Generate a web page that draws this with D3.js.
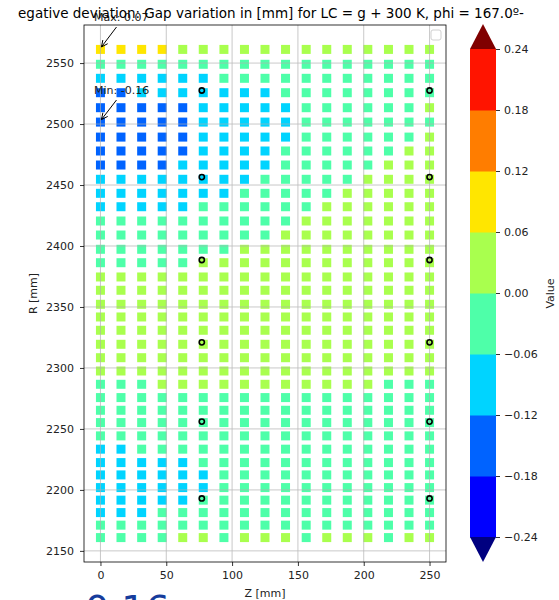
<!DOCTYPE html>
<html>
<head>
<meta charset="utf-8">
<script src="https://cdn.jsdelivr.net/npm/d3@7"></script>
<style>
  body { margin: 0; background: #fff; }
  svg text { font-family: "DejaVu Sans", sans-serif; }
</style>
</head>
<body>
<div id="chart"></div>
<script>
// Z positions of the measuring columns [mm]
var zPos = [0, 15.6, 31.3, 46.9, 62.5, 78.1, 93.8, 109.4, 125, 140.6, 156.3, 171.9, 187.5, 203.1, 218.8, 234.4, 250];
// R positions of the rows, top to bottom [mm]
var rPos = [2561.2, 2549, 2537.5, 2525.7, 2513.4, 2501.6, 2489.3, 2477.9, 2466.4, 2454.7, 2443.2, 2432.2,
            2420.5, 2409, 2397.3, 2386.3, 2374.6, 2363.7, 2352.2, 2341.8, 2330.9, 2319.4, 2308.4, 2297.5,
            2286.6, 2275.7, 2265.3, 2255.2, 2244.3, 2233.4, 2222.4, 2212.3, 2201.9, 2191.6, 2181.4, 2171.1, 2160.9];
// gap variation [mm], one row per R, one value per Z
var gap = [
  [0.07, 0.07, 0.07, 0.07, 0.02, 0.02, 0.02, 0.02, 0.02, 0.02, 0.02, 0.02, 0.02, 0.02, 0.02, 0.02, 0.02],
  [-0.02, -0.02, -0.02, -0.02, -0.02, -0.02, -0.02, -0.02, -0.02, -0.02, -0.02, -0.02, -0.02, -0.02, -0.02, -0.02, -0.02],
  [-0.08, -0.08, -0.08, -0.08, -0.08, -0.08, -0.02, -0.02, -0.02, -0.02, -0.02, -0.02, -0.02, -0.02, -0.02, -0.02, -0.02],
  [-0.14, -0.14, -0.08, -0.08, -0.08, -0.08, -0.08, -0.08, -0.08, -0.02, -0.02, -0.02, -0.02, -0.02, -0.02, -0.02, -0.02],
  [-0.14, -0.14, -0.14, -0.14, -0.14, -0.08, -0.08, -0.08, -0.08, -0.08, -0.02, -0.02, -0.02, -0.02, -0.02, -0.02, 0.02],
  [-0.16, -0.14, -0.14, -0.14, -0.14, -0.08, -0.08, -0.08, -0.08, -0.08, -0.02, -0.02, -0.02, -0.02, -0.02, -0.02, -0.02],
  [-0.14, -0.14, -0.14, -0.14, -0.14, -0.08, -0.08, -0.08, -0.08, -0.08, -0.02, -0.02, -0.02, -0.02, -0.02, -0.02, 0.02],
  [-0.14, -0.14, -0.14, -0.14, -0.14, -0.08, -0.08, -0.08, -0.08, -0.02, -0.02, -0.02, -0.02, -0.02, -0.02, 0.02, 0.02],
  [-0.14, -0.14, -0.14, -0.14, -0.08, -0.08, -0.08, -0.08, -0.08, -0.02, -0.02, -0.02, -0.02, -0.02, 0.02, 0.02, 0.02],
  [-0.08, -0.08, -0.08, -0.08, -0.08, -0.08, -0.08, -0.08, -0.02, -0.02, -0.02, -0.02, -0.02, 0.02, 0.02, 0.02, 0.02],
  [-0.08, -0.08, -0.08, -0.08, -0.08, -0.08, -0.08, -0.02, -0.02, -0.02, -0.02, -0.02, 0.02, 0.02, 0.02, 0.02, 0.02],
  [-0.08, -0.08, -0.08, -0.08, -0.08, -0.02, -0.02, -0.02, -0.02, -0.02, -0.02, 0.02, 0.02, 0.02, 0.02, 0.02, 0.02],
  [-0.02, -0.02, -0.02, -0.02, -0.02, -0.02, -0.02, -0.02, -0.02, -0.02, 0.02, 0.02, 0.02, 0.02, 0.02, 0.02, 0.02],
  [-0.02, -0.02, -0.02, -0.02, -0.02, -0.02, -0.02, -0.02, -0.02, 0.02, 0.02, 0.02, 0.02, 0.02, 0.02, 0.02, 0.02],
  [-0.02, -0.02, -0.02, -0.02, -0.02, -0.02, -0.02, 0.02, 0.02, 0.02, 0.02, 0.02, 0.02, 0.02, 0.02, 0.02, 0.02],
  [-0.02, -0.02, -0.02, -0.02, -0.02, 0.02, 0.02, 0.02, 0.02, 0.02, 0.02, 0.02, 0.02, 0.02, 0.02, 0.02, 0.02],
  [0.02, 0.02, 0.02, 0.02, 0.02, 0.02, 0.02, 0.02, 0.02, 0.02, 0.02, 0.02, 0.02, 0.02, 0.02, 0.02, 0.02],
  [0.02, 0.02, 0.02, 0.02, 0.02, 0.02, 0.02, 0.02, 0.02, 0.02, 0.02, 0.02, 0.02, 0.02, 0.02, 0.02, 0.02],
  [0.02, 0.02, 0.02, 0.02, 0.02, 0.02, 0.02, 0.02, 0.02, 0.02, 0.02, 0.02, 0.02, 0.02, 0.02, 0.02, 0.02],
  [0.02, 0.02, 0.02, 0.02, 0.02, 0.02, 0.02, 0.02, 0.02, 0.02, 0.02, 0.02, 0.02, 0.02, 0.02, 0.02, 0.02],
  [0.02, 0.02, 0.02, 0.02, 0.02, 0.02, 0.02, 0.02, 0.02, 0.02, 0.02, 0.02, 0.02, 0.02, 0.02, 0.02, 0.02],
  [0.02, 0.02, 0.02, 0.02, 0.02, 0.02, 0.02, 0.02, 0.02, 0.02, 0.02, 0.02, 0.02, 0.02, 0.02, 0.02, 0.02],
  [0.02, 0.02, 0.02, 0.02, 0.02, 0.02, 0.02, 0.02, 0.02, 0.02, 0.02, 0.02, 0.02, 0.02, 0.02, 0.02, 0.02],
  [0.02, 0.02, 0.02, 0.02, 0.02, 0.02, 0.02, 0.02, 0.02, 0.02, 0.02, 0.02, 0.02, 0.02, 0.02, 0.02, 0.02],
  [-0.02, -0.02, -0.02, 0.02, 0.02, 0.02, 0.02, 0.02, 0.02, 0.02, 0.02, 0.02, 0.02, 0.02, -0.02, -0.02, -0.02],
  [-0.02, -0.02, -0.02, -0.02, -0.02, -0.02, -0.02, -0.02, -0.02, -0.02, -0.02, -0.02, -0.02, -0.02, -0.02, -0.02, -0.02],
  [-0.02, -0.02, -0.02, -0.02, -0.02, -0.02, -0.02, -0.02, -0.02, -0.02, -0.02, -0.02, -0.02, -0.02, -0.02, -0.02, -0.02],
  [-0.02, -0.02, -0.02, -0.02, -0.02, -0.02, -0.02, -0.02, -0.02, -0.02, -0.02, -0.02, -0.02, -0.02, -0.02, -0.02, -0.02],
  [-0.02, -0.02, -0.02, -0.02, -0.02, -0.02, -0.02, -0.02, -0.02, -0.02, -0.02, -0.02, -0.02, -0.02, -0.02, -0.02, -0.02],
  [-0.08, -0.08, -0.02, -0.02, -0.02, -0.02, -0.02, -0.02, -0.02, -0.02, -0.02, -0.02, -0.02, -0.02, -0.02, -0.02, -0.02],
  [-0.08, -0.08, -0.08, -0.08, -0.08, -0.02, -0.02, -0.02, -0.02, -0.02, -0.02, -0.02, -0.02, -0.02, -0.02, -0.02, -0.02],
  [-0.08, -0.08, -0.08, -0.08, -0.08, -0.08, -0.02, -0.02, -0.02, -0.02, -0.02, -0.02, -0.02, -0.02, -0.02, -0.02, -0.02],
  [-0.08, -0.08, -0.08, -0.08, -0.08, -0.08, -0.02, -0.02, -0.02, -0.02, -0.02, -0.02, -0.02, -0.02, -0.02, -0.02, -0.02],
  [-0.08, -0.08, -0.08, -0.08, -0.08, -0.02, -0.02, -0.02, -0.02, -0.02, -0.02, -0.02, -0.02, -0.02, -0.02, -0.02, -0.02],
  [-0.08, -0.08, -0.08, -0.02, -0.02, -0.02, -0.02, -0.02, -0.02, -0.02, -0.02, -0.02, -0.02, -0.02, -0.02, -0.02, -0.02],
  [-0.02, -0.02, -0.02, -0.02, -0.02, -0.02, -0.02, -0.02, -0.02, -0.02, -0.02, -0.02, -0.02, -0.02, -0.02, -0.02, -0.02],
  [-0.02, -0.02, -0.02, -0.02, 0.02, 0.02, -0.02, 0.02, 0.02, 0.02, -0.02, 0.02, 0.02, 0.02, -0.02, 0.02, 0.02]
];
// reference points (black circles)
var refZ = [77, 250];
var refR = [2527.5, 2456.5, 2388.5, 2321, 2256, 2193];
// colour levels
var levels = [-0.24, -0.18, -0.12, -0.06, 0, 0.06, 0.12, 0.18, 0.24];
var xTicks = [0, 50, 100, 150, 200, 250];
var yTicks = [2150, 2200, 2250, 2300, 2350, 2400, 2450, 2500, 2550];

var titleText = 'egative deviation: Gap variation in [mm] for LC = g + 300 K, phi = 167.0º-';
var width = 559, height = 600;
var plot = {left: 84, right: 446, top: 25, bottom: 562};

var svg = d3.select('#chart').append('svg')
    .attr('width', width).attr('height', height);
svg.append('rect').attr('width', width).attr('height', height).attr('fill', '#fff');

// matplotlib style 5% margins
function padded(ext) {
    var p = (ext[1] - ext[0]) * 0.05;
    return [ext[0] - p, ext[1] + p];
}
var x = d3.scaleLinear().domain(padded(d3.extent(zPos))).range([plot.left, plot.right]);
var y = d3.scaleLinear().domain(padded(d3.extent(rPos))).range([plot.bottom, plot.top]);

// jet colormap
var jetR = d3.scaleLinear().domain([0, 0.35, 0.66, 0.89, 1]).range([0, 0, 1, 1, 0.5]);
var jetG = d3.scaleLinear().domain([0, 0.125, 0.375, 0.64, 0.91, 1]).range([0, 0, 1, 1, 0, 0]);
var jetB = d3.scaleLinear().domain([0, 0.11, 0.34, 0.65, 1]).range([0.5, 1, 1, 0, 0]);
function jet(t) {
    return d3.rgb(jetR(t) * 255, jetG(t) * 255, jetB(t) * 255).formatHex();
}
var binColors = d3.range(levels.length + 1).map(function (i) { return jet(i / levels.length); });
var color = d3.scaleThreshold().domain(levels).range(binColors);

var cells = [];
gap.forEach(function (row, i) {
    row.forEach(function (v, j) {
        cells.push({z: zPos[j], r: rPos[i], v: v});
    });
});

var sq = 9;
svg.append('g').selectAll('rect')
    .data(cells)
    .enter()
    .append('rect')
    .attr('x', function (d) { return x(d.z) - sq / 2; })
    .attr('y', function (d) { return y(d.r) - sq / 2; })
    .attr('width', sq)
    .attr('height', sq)
    .attr('fill', function (d) { return color(d.v); });

// grid on top of the markers
var grid = svg.append('g').attr('stroke', '#b0b0b0').attr('stroke-width', 0.8).attr('opacity', 0.85);
grid.selectAll('.gx').data(xTicks).enter().append('line')
    .attr('x1', function (d) { return x(d); }).attr('x2', function (d) { return x(d); })
    .attr('y1', plot.top).attr('y2', plot.bottom);
grid.selectAll('.gy').data(yTicks).enter().append('line')
    .attr('y1', function (d) { return y(d); }).attr('y2', function (d) { return y(d); })
    .attr('x1', plot.left).attr('x2', plot.right);

// reference circles
var refs = [];
refZ.forEach(function (z) { refR.forEach(function (r) { refs.push({z: z, r: r}); }); });
svg.append('g').selectAll('circle')
    .data(refs)
    .enter()
    .append('circle')
    .attr('cx', function (d) { return x(d.z); })
    .attr('cy', function (d) { return y(d.r); })
    .attr('r', 2.6)
    .attr('fill', 'none')
    .attr('stroke', '#000')
    .attr('stroke-width', 1.6);

// axes
var xAxis = svg.append('g').attr('transform', 'translate(0,' + plot.bottom + ')')
    .call(d3.axisBottom(x).tickValues(xTicks).tickFormat(d3.format('d')).tickSize(4).tickPadding(5).tickSizeOuter(0));
var yAxis = svg.append('g').attr('transform', 'translate(' + plot.left + ',0)')
    .call(d3.axisLeft(y).tickValues(yTicks).tickFormat(d3.format('d')).tickSize(4).tickPadding(6).tickSizeOuter(0));
[xAxis, yAxis].forEach(function (a) {
    a.select('.domain').remove();
    a.selectAll('text').attr('font-size', 11).attr('font-family', '"DejaVu Sans", sans-serif').attr('fill', '#222');
    a.selectAll('line').attr('stroke', '#000').attr('stroke-width', 0.8);
});
svg.append('rect')
    .attr('x', plot.left).attr('y', plot.top)
    .attr('width', plot.right - plot.left).attr('height', plot.bottom - plot.top)
    .attr('fill', 'none').attr('stroke', '#000').attr('stroke-width', 0.8);

// empty legend box
svg.append('rect').attr('x', 431).attr('y', 30).attr('width', 10).attr('height', 10).attr('rx', 2)
    .attr('fill', '#fff').attr('stroke', '#d0d0d0').attr('stroke-width', 1);

// axis labels
svg.append('text').attr('x', (plot.left + plot.right) / 2).attr('y', 597)
    .attr('text-anchor', 'middle').attr('font-size', 11).attr('fill', '#222').text('Z [mm]');
svg.append('text').attr('transform', 'translate(37,' + ((plot.top + plot.bottom) / 2) + ') rotate(-90)')
    .attr('text-anchor', 'middle').attr('font-size', 11).attr('fill', '#222').text('R [mm]');

// annotations
function arrow(x0, y0, x1, y1) {
    var a = Math.atan2(y1 - y0, x1 - x0), h = 7, s = 0.45;
    var p = d3.path();
    p.moveTo(x0, y0); p.lineTo(x1, y1);
    p.moveTo(x1 - h * Math.cos(a - s), y1 - h * Math.sin(a - s));
    p.lineTo(x1, y1);
    p.lineTo(x1 - h * Math.cos(a + s), y1 - h * Math.sin(a + s));
    svg.append('path').attr('d', p.toString()).attr('fill', 'none')
        .attr('stroke', '#000').attr('stroke-width', 1);
}
var maxCell = cells.reduce(function (a, b) { return b.v > a.v ? b : a; });
var minCell = cells.reduce(function (a, b) { return b.v < a.v ? b : a; });
svg.append('text').attr('x', 94).attr('y', 21).attr('font-size', 11).attr('fill', '#222')
    .text('Max: ' + maxCell.v.toFixed(2));
arrow(116.5, 27, x(maxCell.z) + 1, y(maxCell.r) - 2.5);
svg.append('text').attr('x', 94).attr('y', 94).attr('font-size', 11).attr('fill', '#222')
    .text('Min: ' + minCell.v.toFixed(2));
arrow(116.5, 100, x(minCell.z) + 1, y(minCell.r) - 2.5);

// title
svg.append('text').attr('x', 18).attr('y', 18).attr('font-size', 13.5).attr('fill', '#000').text(titleText);

// colorbar
var cb = {x: 470, w: 26, top: 49, bottom: 537, ext: 25};
var yC = d3.scaleLinear().domain([levels[0], levels[levels.length - 1]]).range([cb.bottom, cb.top]);
var cbg = svg.append('g');
cbg.selectAll('rect')
    .data(d3.pairs(levels))
    .enter()
    .append('rect')
    .attr('x', cb.x)
    .attr('width', cb.w)
    .attr('y', function (d) { return yC(d[1]); })
    .attr('height', function (d) { return yC(d[0]) - yC(d[1]) + 0.5; })
    .attr('fill', function (d) { return color((d[0] + d[1]) / 2); });
cbg.append('path')
    .attr('d', 'M' + cb.x + ',' + cb.top + 'L' + (cb.x + cb.w) + ',' + cb.top + 'L' + (cb.x + cb.w / 2) + ',' + (cb.top - cb.ext) + 'Z')
    .attr('fill', binColors[binColors.length - 1]);
cbg.append('path')
    .attr('d', 'M' + cb.x + ',' + cb.bottom + 'L' + (cb.x + cb.w) + ',' + cb.bottom + 'L' + (cb.x + cb.w / 2) + ',' + (cb.bottom + cb.ext) + 'Z')
    .attr('fill', binColors[0]);
var cAxis = svg.append('g').attr('transform', 'translate(' + (cb.x + cb.w) + ',0)')
    .call(d3.axisRight(yC).tickValues(levels).tickFormat(d3.format('.2f')).tickSize(4).tickPadding(4).tickSizeOuter(0));
cAxis.select('.domain').remove();
cAxis.selectAll('text').attr('font-size', 11).attr('font-family', '"DejaVu Sans", sans-serif').attr('fill', '#222');
cAxis.selectAll('line').attr('stroke', '#000').attr('stroke-width', 0.8);
svg.append('text').attr('transform', 'translate(554,' + ((plot.top + plot.bottom) / 2) + ') rotate(-90)')
    .attr('text-anchor', 'middle').attr('font-size', 11).attr('fill', '#222').text('Value');

// big value label at the bottom (cut by the frame)
svg.append('text').attr('x', 85).attr('y', 622).attr('font-size', 38).attr('fill', '#163c9c')
    .text(Math.abs(minCell.v).toFixed(2));
</script>
</body>
</html>
